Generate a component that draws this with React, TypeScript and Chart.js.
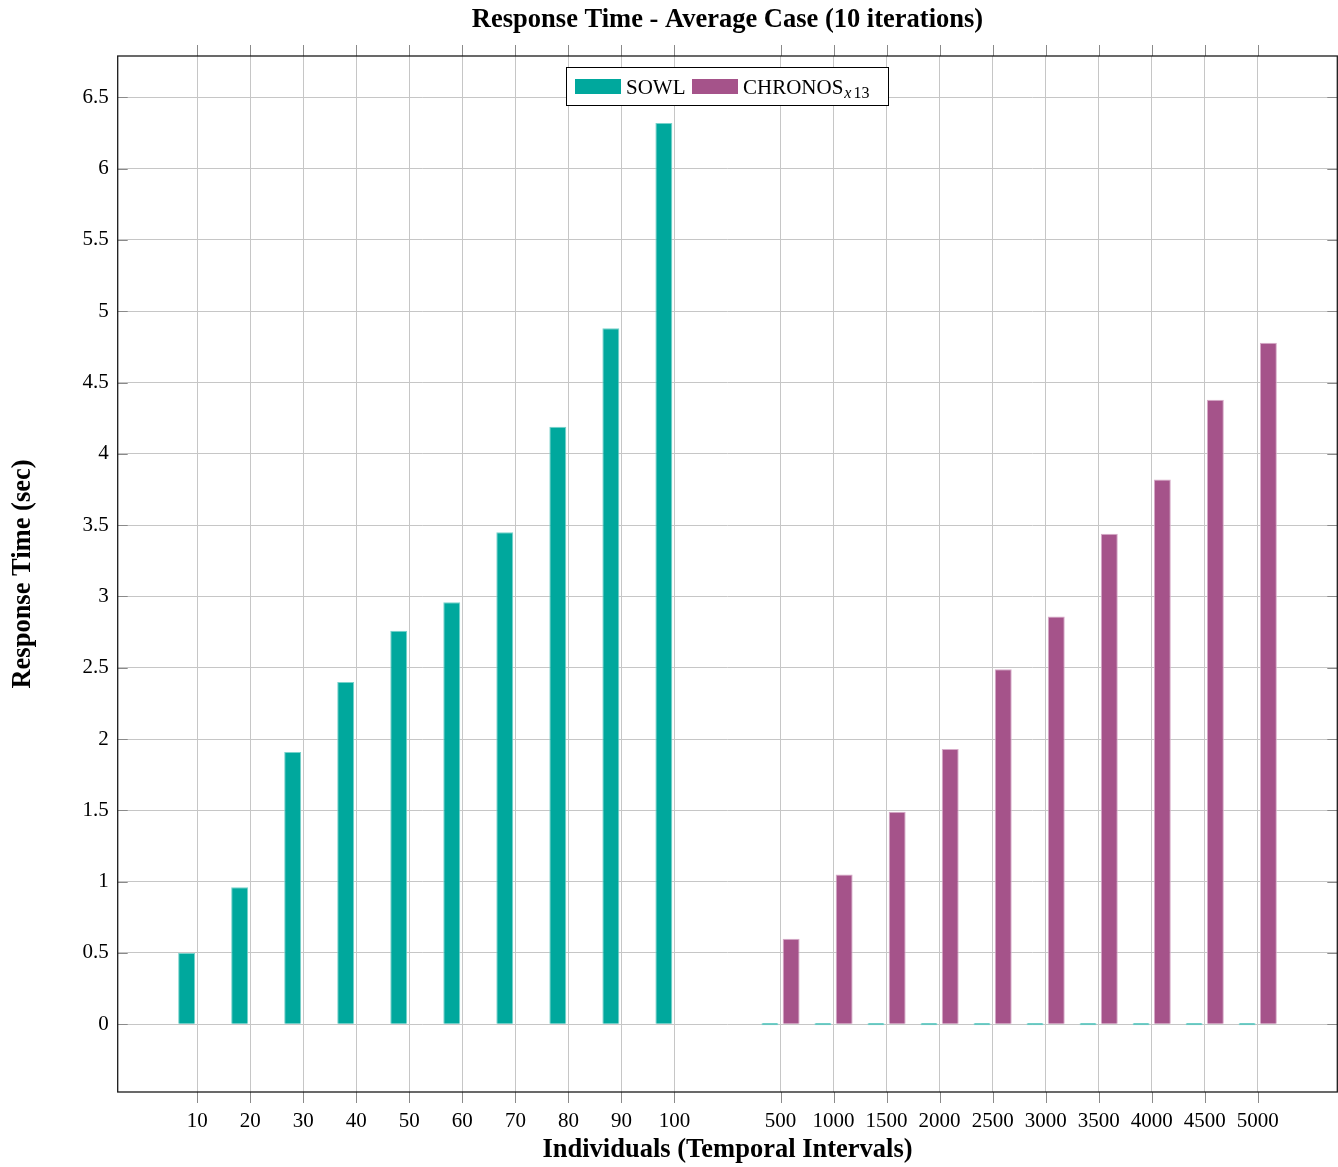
import React, { useEffect, useRef } from "react";
import { Chart, registerables } from "chart.js";

Chart.register(...registerables);

const categories = ["10", "20", "30", "40", "50", "60", "70", "80", "90", "100", "", "500", "1000", "1500", "2000", "2500", "3000", "3500", "4000", "4500", "5000"];
const sowlValues: (number | null)[] = [0.5, 0.96, 1.91, 2.4, 2.76, 2.96, 3.45, 4.19, 4.88, 6.32, null, 0, 0, 0, 0, 0, 0, 0, 0, 0, 0];
const chronosValues: (number | null)[] = [null, null, null, null, null, null, null, null, null, null, null, 0.6, 1.05, 1.49, 1.93, 2.49, 2.86, 3.44, 3.82, 4.38, 4.78];
const yTickValues = [0, 0.5, 1, 1.5, 2, 2.5, 3, 3.5, 4, 4.5, 5, 5.5, 6, 6.5];
const seriesNames = ["SOWL", "CHRONOS"];

const TEAL = "rgb(0,168,157)";
const PURPLE = "rgb(165,83,138)";
const FONT = "'Liberation Serif', 'Times New Roman', serif";

const xTickPositions = categories.map((c, i) => (c === "" ? -1 : i)).filter((i) => i >= 0);

function toPoints(values: (number | null)[]) {
  const pts: { x: number; y: number }[] = [];
  values.forEach((v, i) => {
    if (v !== null) pts.push({ x: i, y: v });
  });
  return pts;
}

const decorPlugin = {
  id: "decor",
  afterDraw(chart: any) {
    const { ctx, chartArea, scales } = chart;
    const { left, right, top, bottom } = chartArea;
    const x = scales.x;
    const y = scales.y;
    ctx.save();
    // outer x ticks top & bottom
    ctx.strokeStyle = "#8a8a8a";
    ctx.lineWidth = 1;
    ctx.beginPath();
    for (const v of xTickPositions) {
      const px = Math.round(x.getPixelForValue(v)) + 0.5;
      ctx.moveTo(px, top - 11);
      ctx.lineTo(px, top);
      ctx.moveTo(px, bottom);
      ctx.lineTo(px, bottom + 11);
    }
    // inner y ticks left & right
    for (const v of yTickValues) {
      const py = Math.round(y.getPixelForValue(v)) + 0.5;
      ctx.moveTo(left, py);
      ctx.lineTo(left + 10, py);
      ctx.moveTo(right - 10, py);
      ctx.lineTo(right, py);
    }
    ctx.stroke();
    // frame
    ctx.strokeStyle = "#1a1a1a";
    ctx.lineWidth = 1.3;
    ctx.strokeRect(left, top, right - left, bottom - top);

    // title
    ctx.fillStyle = "#000";
    ctx.textAlign = "center";
    ctx.textBaseline = "middle";
    ctx.font = `bold 26.5px ${FONT}`;
    ctx.fillText("Response Time - Average Case (10 iterations)", (left + right) / 2, 20);
    // x title
    ctx.font = `bold 26.5px ${FONT}`;
    ctx.fillText("Individuals (Temporal Intervals)", (left + right) / 2, 1150);
    // y title
    ctx.save();
    ctx.translate(23, (top + bottom) / 2);
    ctx.rotate(-Math.PI / 2);
    ctx.fillText("Response Time (sec)", 0, 0);
    ctx.restore();

    // legend
    const lx = 566.5, ly = 67.5, lw = 322, lh = 38;
    ctx.fillStyle = "#fff";
    ctx.fillRect(lx, ly, lw, lh);
    ctx.strokeStyle = "#000";
    ctx.lineWidth = 1;
    ctx.strokeRect(lx, ly, lw, lh);
    ctx.fillStyle = TEAL;
    ctx.fillRect(575, 79, 46, 15);
    ctx.fillStyle = PURPLE;
    ctx.fillRect(692, 79, 46, 15);
    ctx.fillStyle = "#000";
    ctx.textAlign = "left";
    ctx.textBaseline = "alphabetic";
    ctx.font = `21px ${FONT}`;
    ctx.fillText(seriesNames[0], 626, 94);
    ctx.fillText(seriesNames[1], 743, 94);
    const w = ctx.measureText(seriesNames[1]).width;
    ctx.font = `italic 16px ${FONT}`;
    ctx.fillText("x", 743 + w + 1, 98);
    const xw = ctx.measureText("x").width;
    ctx.font = `16px ${FONT}`;
    ctx.fillText("13", 743 + w + 3 + xw, 98);
    ctx.restore();
  },
};

export default function App() {
  const canvasRef = useRef<HTMLCanvasElement | null>(null);

  useEffect(() => {
    const canvas = canvasRef.current;
    if (!canvas) return;
    const chart = new Chart(canvas, {
      type: "bar",
      data: {
        datasets: [
          {
            label: seriesNames[0],
            data: toPoints(sowlValues) as any,
            backgroundColor: TEAL,
            borderColor: "rgba(120,210,203,1)",
            borderWidth: 1,
            minBarLength: 2,
          } as any,
          {
            label: seriesNames[1],
            data: toPoints(chronosValues) as any,
            backgroundColor: PURPLE,
            borderColor: "rgba(215,170,200,1)",
            borderWidth: 1,
          } as any,
        ],
      },
      options: {
        responsive: false,
        animation: false,
        devicePixelRatio: 1,
        categoryPercentage: 0.8,
        barPercentage: 0.8,
        layout: { padding: { top: 56, right: 0.7, left: 0, bottom: 0 } },
        plugins: {
          legend: { display: false },
          title: { display: false },
          tooltip: { enabled: false },
        },
        scales: {
          x: {
            type: "linear",
            min: -1.5,
            max: 21.5,
            offset: false,
            afterBuildTicks: (scale: any) => {
              scale.ticks = xTickPositions.map((v) => ({ value: v }));
            },
            afterFit: (scale: any) => {
              scale.height = 75;
            },
            grid: { color: "#c6c6c6", lineWidth: 1, drawTicks: false, offset: false },
            border: { display: false },
            ticks: {
              autoSkip: false,
              maxRotation: 0,
              padding: 17,
              color: "#000",
              font: { family: FONT, size: 21 },
              callback: (v: any) => categories[Math.round(Number(v))] ?? "",
            },
          },
          y: {
            type: "linear",
            min: -0.475,
            max: 6.79,
            z: 1,
            afterBuildTicks: (scale: any) => {
              scale.ticks = yTickValues.map((v) => ({ value: v }));
            },
            afterFit: (scale: any) => {
              scale.width = 117.7;
            },
            grid: { color: "#c6c6c6", lineWidth: 1, drawTicks: false },
            border: { display: false },
            ticks: {
              padding: 9,
              color: "#000",
              font: { family: FONT, size: 21 },
              callback: (v: any) => String(v),
            },
          },
        },
      } as any,
      plugins: [decorPlugin],
    });
    return () => chart.destroy();
  }, []);

  return (
    <div style={{ position: "absolute", left: 0, top: 0, width: 1338, height: 1167, background: "#fff" }}>
      <canvas ref={canvasRef} width={1338} height={1167} style={{ display: "block" }} />
    </div>
  );
}
